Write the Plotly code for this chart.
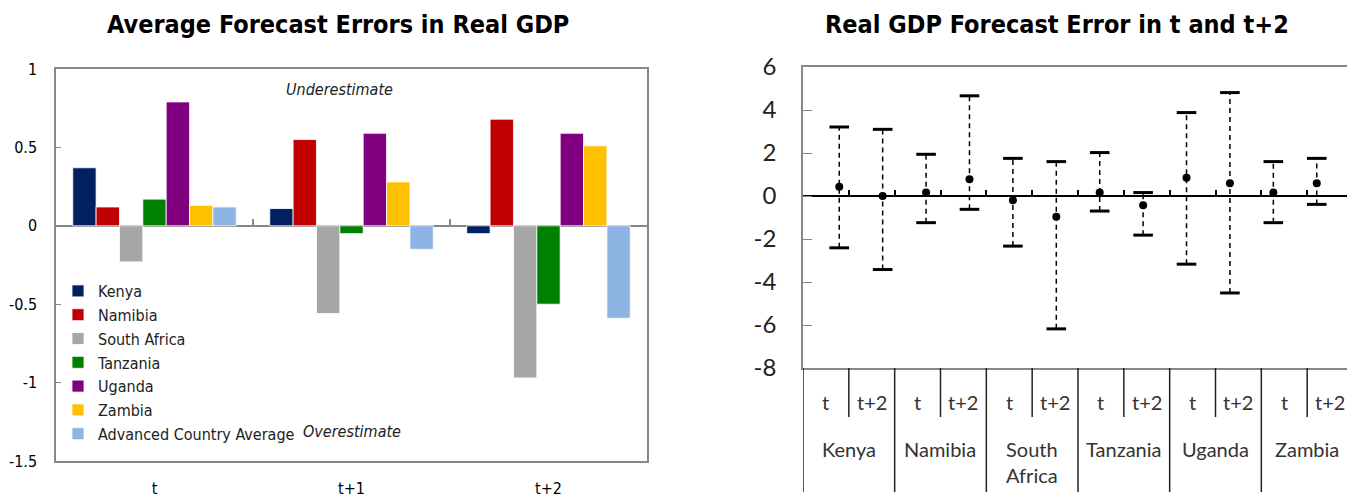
import plotly.graph_objects as go

# ---------------- data: left chart ----------------
horizons = ["t", "t+1", "t+2"]
series_names = ["Kenya", "Namibia", "South Africa", "Tanzania", "Uganda", "Zambia",
                "Advanced Country Average"]
kenya = [0.37, 0.11, -0.05]
namibia = [0.12, 0.55, 0.68]
south_africa = [-0.23, -0.56, -0.97]
tanzania = [0.17, -0.05, -0.50]
uganda = [0.79, 0.59, 0.59]
zambia = [0.13, 0.28, 0.51]
advanced_avg = [0.12, -0.15, -0.59]
left_values = [kenya, namibia, south_africa, tanzania, uganda, zambia, advanced_avg]
left_colors = ["#002060", "#C00000", "#A6A6A6", "#008000", "#800080", "#FFC000", "#8EB4E3"]
left_yticks = [-1.5, -1, -0.5, 0, 0.5, 1]
left_yticktext = ["-1.5", "-1", "-0.5", "0", "0.5", "1"]

# ---------------- data: right chart ----------------
countries = ["Kenya", "Namibia", "South<br>Africa", "Tanzania", "Uganda", "Zambia"]
right_horizons = ["t", "t+2"]
mean_t = [0.43, 0.16, -0.20, 0.16, 0.85, 0.16]
high_t = [3.21, 1.94, 1.75, 2.02, 3.88, 1.60]
low_t = [-2.41, -1.24, -2.33, -0.70, -3.17, -1.24]
mean_t2 = [0.00, 0.78, -0.96, -0.43, 0.59, 0.59]
high_t2 = [3.10, 4.66, 1.60, 0.16, 4.81, 1.75]
low_t2 = [-3.42, -0.62, -6.18, -1.82, -4.51, -0.39]
right_yticks = [-8, -6, -4, -2, 0, 2, 4, 6]
right_yticktext = ["-8", "-6", "-4", "-2", "0", "2", "4", "6"]

NARROW = "Liberation Sans Narrow, DejaVu Sans Condensed, Arial Narrow, DejaVu Sans, sans-serif"
CAL = "Lato, Open Sans, sans-serif"

# page body has an 8px margin: lay out in window pixels, shifted into figure space
OFF = 8
W, H = 1355 - OFF, 500 - OFF


def px(x):
    return (x - OFF) / W


def py(y):
    return 1 - (y - OFF) / H


fig = go.Figure()

# ---- left bars ----
for name, vals, col in zip(series_names, left_values, left_colors):
    fig.add_trace(go.Bar(x=horizons, y=vals, name=name, marker_color=col,
                         marker_line=dict(color="white", width=0.8),
                         xaxis="x", yaxis="y"))

# ---- right chart: build interleaved arrays ----
outer, inner, means, highs, lows = [], [], [], [], []
for i, c in enumerate(countries):
    for h, m, hi, lo in ((right_horizons[0], mean_t, high_t, low_t),
                         (right_horizons[1], mean_t2, high_t2, low_t2)):
        outer.append(c)
        inner.append(h)
        means.append(m[i])
        highs.append(hi[i])
        lows.append(lo[i])

for o, n, lo, hi in zip(outer, inner, lows, highs):
    fig.add_trace(go.Scatter(x=[[o, o], [n, n]], y=[lo, hi], mode="lines",
                             line=dict(color="black", width=1.5, dash="5px,4px"),
                             showlegend=False, hoverinfo="skip",
                             xaxis="x2", yaxis="y2"))

fig.add_trace(go.Scatter(x=[outer + outer, inner + inner], y=highs + lows, mode="markers",
                         marker=dict(symbol="line-ew", size=14,
                                     line=dict(color="black", width=3)),
                         showlegend=False, hoverinfo="skip", xaxis="x2", yaxis="y2"))
fig.add_trace(go.Scatter(x=[outer, inner], y=means, mode="markers",
                         marker=dict(symbol="circle", size=8, color="black"),
                         showlegend=False, xaxis="x2", yaxis="y2"))

# dummy invisible traces so overlay tick axes exist
fig.add_trace(go.Scatter(x=[0], y=[0], mode="markers", marker=dict(opacity=0),
                         showlegend=False, hoverinfo="skip", xaxis="x3", yaxis="y2"))
fig.add_trace(go.Scatter(x=[0], y=[0], mode="markers", marker=dict(opacity=0),
                         showlegend=False, hoverinfo="skip", xaxis="x4", yaxis="y"))

L_DOM_X = [px(56), px(647)]
L_DOM_Y = [py(461), py(69)]
R_DOM_X = [px(803), px(1353)]
R_DOM_Y = [py(368), py(67)]

l_zero = L_DOM_Y[0] + (0 - left_yticks[0]) / (left_yticks[-1] - left_yticks[0]) * (L_DOM_Y[1] - L_DOM_Y[0])
r_zero = R_DOM_Y[0] + (0 - right_yticks[0]) / (right_yticks[-1] - right_yticks[0]) * (R_DOM_Y[1] - R_DOM_Y[0])

GREY = "#888888"

fig.update_layout(
    width=W, height=H,
    margin=dict(l=0, r=0, t=0, b=0, autoexpand=False),
    paper_bgcolor="white", plot_bgcolor="white",
    barmode="group", bargap=0.17, bargroupgap=0,
    showlegend=True,
    legend=dict(x=px(58), y=py(274), xanchor="left", yanchor="top",
                bgcolor="rgba(0,0,0,0)", font=dict(family=NARROW, size=16, color="#222"),
                traceorder="normal", itemwidth=30, tracegroupgap=0),
    xaxis=dict(domain=L_DOM_X, anchor="y", type="category", showgrid=False, automargin=False,
               showline=True, mirror=True, linecolor=GREY, linewidth=1.5,
               ticks="outside", ticklen=12, tickcolor="rgba(0,0,0,0)",
               tickfont=dict(family=NARROW, size=16, color="black")),
    yaxis=dict(domain=L_DOM_Y, anchor="x", range=[-1.5, 1], tickvals=left_yticks,
               ticktext=left_yticktext, showgrid=False, zeroline=True, zerolinecolor=GREY,
               zerolinewidth=1.5, showline=True, mirror=True, linecolor=GREY, linewidth=1.5,
               ticks="inside", ticklen=5, tickcolor=GREY, ticklabelstandoff=14, automargin=False,
               tickfont=dict(family=NARROW, size=16, color="black")),
    xaxis4=dict(overlaying="x", anchor="free", position=l_zero, side="top", automargin=False,
                range=[-0.5, 2.5], tickvals=[0.5, 1.5], ticks="outside", ticklen=7,
                tickcolor=GREY, tickwidth=1.5, showticklabels=False, showgrid=False,
                zeroline=False, showline=False),
    xaxis2=dict(domain=R_DOM_X, anchor="y2", type="multicategory", showgrid=False,
                showline=True, mirror=True, linecolor=GREY, linewidth=1.5, automargin=False,
                showdividers=False, ticks="", showticklabels=False),
    yaxis2=dict(domain=R_DOM_Y, anchor="x2", range=[-8, 6], tickvals=right_yticks,
                ticktext=right_yticktext,
                showgrid=False, zeroline=True, zerolinecolor="black", zerolinewidth=2,
                showline=True, mirror=True, linecolor=GREY, linewidth=1.5, automargin=False,
                ticks="inside", ticklen=9, tickcolor=GREY, ticklabelstandoff=20,
                tickfont=dict(family=CAL, size=24, color="#222")),
    xaxis3=dict(overlaying="x2", anchor="free", position=r_zero, side="top", automargin=False,
                range=[-0.5, 11.5], tickvals=[i + 0.5 for i in range(11)], ticks="outside",
                ticklen=6, tickcolor="black", tickwidth=1.5, showticklabels=False,
                showgrid=False, zeroline=False, showline=False),
)

# right chart category axis labels and separators (positions on the overlay index axis)
AX_Y = R_DOM_Y[0]
for k, (o, n) in enumerate(zip(outer, inner)):
    fig.add_annotation(text=n, x=k, y=py(402), xref="x3", yref="paper",
                       showarrow=False, xanchor="center", yanchor="middle",
                       font=dict(family=CAL, size=20, color="#333"))
    if k % 2 == 0:
        fig.add_shape(type="line", xref="x3", yref="paper", x0=k + 0.5, x1=k + 0.5,
                      y0=AX_Y, y1=py(417), line=dict(color="#222", width=1.5))
        fig.add_annotation(text=o, x=k + 0.5, y=py(435), xref="x3", yref="paper",
                           showarrow=False, xanchor="center", yanchor="top",
                           font=dict(family=CAL, size=20, color="#333"))
for k in range(-1, 12, 2):
    fig.add_shape(type="line", xref="x3", yref="paper", x0=k + 0.5, x1=k + 0.5,
                  y0=AX_Y, y1=py(492), line=dict(color="#222", width=1.5))

fig.add_annotation(text="<b>Average Forecast Errors in Real GDP</b>", x=px(338), y=1.0,
                   xref="paper", yref="paper", showarrow=False, xanchor="center", yanchor="top",
                   font=dict(family=NARROW, size=25, color="black"))
fig.add_annotation(text="<b>Real GDP Forecast Error in t and t+2</b>", x=px(1057), y=1.0,
                   xref="paper", yref="paper", showarrow=False, xanchor="center", yanchor="top",
                   font=dict(family=NARROW, size=25, color="black"))
fig.add_annotation(text="<i>Underestimate</i>", x=px(339), y=py(90), xref="paper",
                   yref="paper", showarrow=False, xanchor="center", yanchor="middle",
                   font=dict(family=NARROW, size=16, color="#222"))
fig.add_annotation(text="<i>Overestimate</i>", x=px(352), y=py(431), xref="paper",
                   yref="paper", showarrow=False, xanchor="center", yanchor="middle",
                   font=dict(family=NARROW, size=16, color="#222"))

fig.write_html("out.html")
